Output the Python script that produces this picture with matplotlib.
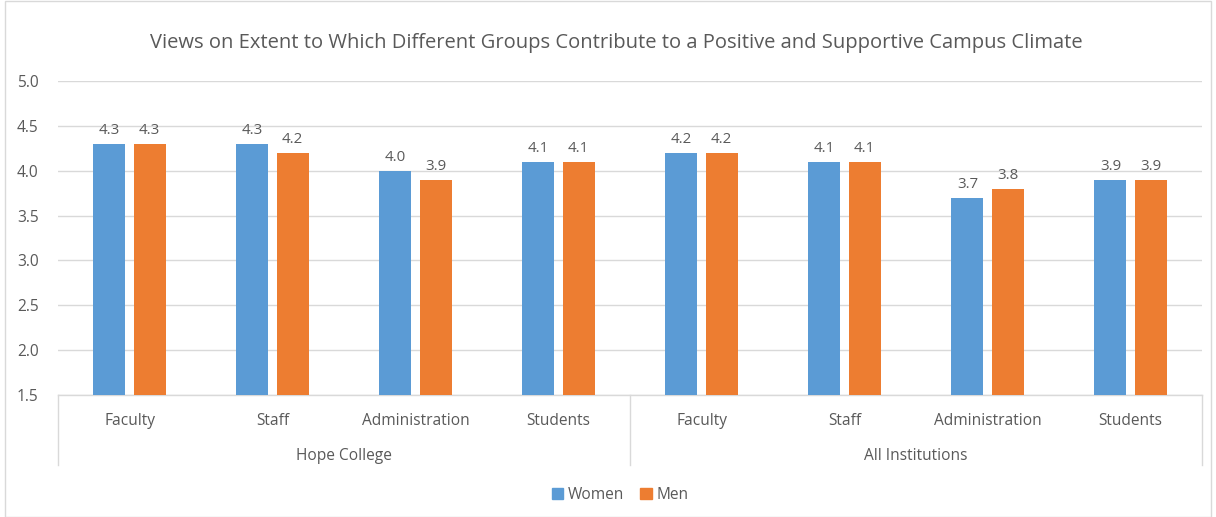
import matplotlib
matplotlib.use("Agg")
import matplotlib.pyplot as plt
from matplotlib.patches import Rectangle
from matplotlib.lines import Line2D

title = "Views on Extent to Which Different Groups Contribute to a Positive and Supportive Campus Climate"
groups = ["Hope College", "All Institutions"]
categories = ["Faculty", "Staff", "Administration", "Students"]
women = [4.3, 4.3, 4.0, 4.1, 4.2, 4.1, 3.7, 3.9]
men = [4.3, 4.2, 3.9, 4.1, 4.2, 4.1, 3.8, 3.9]
yticks = [1.5, 2.0, 2.5, 3.0, 3.5, 4.0, 4.5, 5.0]

BLUE = "#5B9BD5"
ORANGE = "#ED7D31"
TXT = "#595959"
GRID = "#D9D9D9"
FONT = ["Open Sans", "DejaVu Sans"]
plt.rcParams["font.family"] = FONT

fig = plt.figure(figsize=(12.16, 5.17), dpi=100)
W, H = 1216, 517
ax = fig.add_axes([58 / W, 1 - 395 / H, (1202 - 58) / W, (395 - 81) / H])

n = len(women)
xs = [i + 0.5 for i in range(n)]
bw = 0.224
off = 0.14
ax.bar([x - off for x in xs], [v - 1.5 for v in women], bw, bottom=1.5, color=BLUE, zorder=3, label="Women")
ax.bar([x + off for x in xs], [v - 1.5 for v in men], bw, bottom=1.5, color=ORANGE, zorder=3, label="Men")
for x, w, m in zip(xs, women, men):
    ax.annotate(f"{w:.1f}", (x - off, w), xytext=(0, 4), textcoords="offset points",
                ha="center", va="bottom", fontsize=10.8, color=TXT)
    ax.annotate(f"{m:.1f}", (x + off, m), xytext=(0, 4), textcoords="offset points",
                ha="center", va="bottom", fontsize=10.8, color=TXT)

ax.set_xlim(0, n)
ax.set_ylim(1.5, 5.0)
ax.set_yticks(yticks)
ax.set_yticklabels([f"{t:.1f}" for t in yticks], fontsize=11.2, color=TXT)
ax.tick_params(axis="y", length=0, pad=14)
ax.set_xticks([])
ax.grid(axis="y", color=GRID, linewidth=1, zorder=0)
for s in ["top", "right", "left"]:
    ax.spines[s].set_visible(False)
ax.spines["bottom"].set_color(GRID)
ax.spines["bottom"].set_linewidth(1)

# multi-level category axis
trans = ax.get_xaxis_transform()
cat_y = -(421 - 395) / (395 - 81)
grp_y = -(456 - 395) / (395 - 81)
line_bot = -(465 - 395) / (395 - 81)
for i, x in enumerate(xs):
    ax.text(x, cat_y, categories[i % len(categories)], transform=trans, ha="center", va="center",
            fontsize=11.2, color=TXT)
ng = len(categories)
for g, name in enumerate(groups):
    ax.text(g * ng + ng / 2, grp_y, name, transform=trans, ha="center", va="center",
            fontsize=11.2, color=TXT)
for b in range(len(groups) + 1):
    ax.add_line(Line2D([b * ng, b * ng], [0, line_bot], transform=trans, color=GRID,
                       linewidth=1, clip_on=False))

fig.text(616 / W, 1 - 43 / H, title, ha="center", va="center", fontsize=14.5, color=TXT)

leg = fig.legend(handles=[Rectangle((0, 0), 1, 1, color=BLUE), Rectangle((0, 0), 1, 1, color=ORANGE)],
                 labels=["Women", "Men"], loc="center", bbox_to_anchor=(620 / W, 1 - 495 / H),
                 ncol=2, frameon=False, fontsize=11.2, handlelength=0.75, handleheight=0.75,
                 handletextpad=0.3, columnspacing=1.0)
for t in leg.get_texts():
    t.set_color(TXT)

fig.patches.append(Rectangle((5 / W, 0.5 / H), (1211 - 5) / W, (516 - 0.5) / H,
                             transform=fig.transFigure, fill=False, edgecolor=GRID, linewidth=1))

fig.savefig("out.png", dpi=100)
